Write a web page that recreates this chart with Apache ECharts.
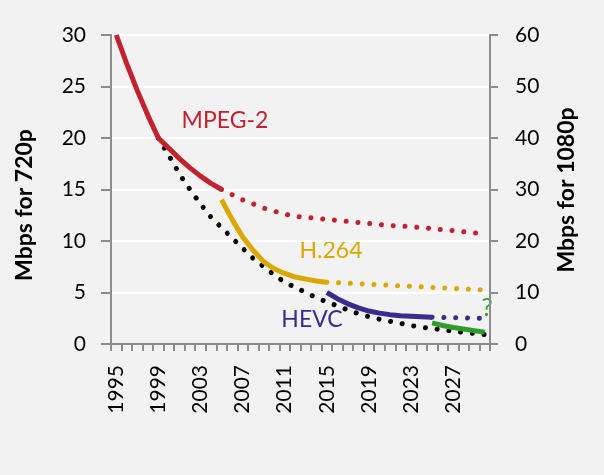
<!DOCTYPE html>
<html>
<head>
<meta charset="utf-8">
<script src="https://cdn.jsdelivr.net/npm/echarts@6/dist/echarts.min.js"></script>
<style>
  html, body { margin: 0; padding: 0; background: #f2f2f2; }
  #chart { width: 604px; height: 475px; }
</style>
</head>
<body>
<div id="chart"></div>
<script>
// years on the x axis, 1995..2030
var years = ['1995','1996','1997','1998','1999','2000','2001','2002','2003','2004',
  '2005','2006','2007','2008','2009','2010','2011','2012','2013','2014',
  '2015','2016','2017','2018','2019','2020','2021','2022','2023','2024',
  '2025','2026','2027','2028','2029','2030'];

var _ = null;
// Mbps for 720p
var mpeg2Actual = [30, 27.2, 24.6, 22.2, 20, 19, 18, 17.1, 16.3, 15.6, 15];
var mpeg2Projected = [_,_,_,_,_,_,_,_,_,_, 15, 14.5, 14.0, 13.6, 13.2, 12.9, 12.6, 12.4, 12.3, 12.2,
  12.1, 12.0, 11.9, 11.8, 11.7, 11.6, 11.5, 11.45, 11.4, 11.3, 11.2, 11.1, 11.0, 10.9, 10.8, 10.7];
var h264Actual = [_,_,_,_,_,_,_,_,_,_, 14.0, 12.1, 10.4, 9.1, 8.0, 7.3, 6.85, 6.5, 6.3, 6.12, 6.0];
var h264Projected = [_,_,_,_,_,_,_,_,_,_, _,_,_,_,_,_,_,_,_,_,
  6.0, 5.95, 5.9, 5.85, 5.8, 5.75, 5.7, 5.65, 5.6, 5.55, 5.5, 5.45, 5.4, 5.35, 5.3, 5.25];
var hevcActual = [_,_,_,_,_,_,_,_,_,_, _,_,_,_,_,_,_,_,_,_,
  5.0, 4.4, 3.9, 3.5, 3.2, 3.0, 2.85, 2.75, 2.7, 2.65, 2.6];
var hevcProjected = [_,_,_,_,_,_,_,_,_,_, _,_,_,_,_,_,_,_,_,_,
  _,_,_,_,_,_,_,_,_,_, 2.6, 2.58, 2.55, 2.53, 2.5, 2.48];
var nextCodec = [_,_,_,_,_,_,_,_,_,_, _,_,_,_,_,_,_,_,_,_,
  _,_,_,_,_,_,_,_,_,_, 2.05, 1.8, 1.6, 1.45, 1.3, 1.15];
var trend = [_,_,_,_, 20, 18.3, 16.5, 15.0, 13.6, 12.3, 11.3, 10.3, 9.3, 8.3, 7.5, 6.7,
  6.0, 5.5, 5.0, 4.5, 4.1, 3.7, 3.3, 2.95, 2.65, 2.4, 2.2, 2.0, 1.8, 1.63, 1.5,
  1.38, 1.25, 1.13, 1.02, 0.92];

var leftTicks = [0, 30, 5];
var rightTicks = [0, 60, 10];

var RED = '#c4212f', GOLD = '#dba800', PURPLE = '#3d2a8c', GREEN = '#2e9e28';
var FONT = 'Lato, "Open Sans", sans-serif';
var AXIS_GREY = '#8c8c8c';

function solid(name, data, color) {
  return {
    name: name, type: 'line', data: data, symbol: 'none', connectNulls: false,
    lineStyle: { color: color, width: 5, cap: 'butt', join: 'round' },
    z: 3
  };
}
function dotted(name, data, color) {
  return {
    name: name, type: 'line', data: data, symbol: 'none', connectNulls: false,
    lineStyle: { color: color, width: 5, type: [0.01, 11.8], cap: 'round' },
    z: 2
  };
}

var chart = echarts.init(document.getElementById('chart'));
var option = {
  backgroundColor: '#f2f2f2',
  animation: false,
  textStyle: { fontFamily: FONT },
  grid: { left: 111, right: 114, top: 35, bottom: 131, containLabel: false },
  xAxis: {
    type: 'category',
    data: years,
    boundaryGap: true,
    axisLine: { lineStyle: { color: AXIS_GREY, width: 2 } },
    axisTick: { show: true, interval: 0, length: 7, lineStyle: { color: AXIS_GREY, width: 2 } },
    axisLabel: { interval: 3, rotate: 90, margin: 21, fontSize: 21, color: '#000', fontFamily: FONT },
    splitLine: { show: false }
  },
  yAxis: [{
    type: 'value', min: leftTicks[0], max: leftTicks[1], interval: leftTicks[2],
    position: 'left',
    axisLine: { show: true, lineStyle: { color: AXIS_GREY, width: 2 } },
    axisTick: { show: true, length: 10, lineStyle: { color: AXIS_GREY, width: 2 } },
    axisLabel: { fontSize: 21, color: '#000', margin: 25, fontFamily: FONT },
    splitLine: { show: true, lineStyle: { color: '#ffffff', width: 2 } }
  }, {
    type: 'value', min: rightTicks[0], max: rightTicks[1], interval: rightTicks[2],
    position: 'right',
    axisLine: { show: true, lineStyle: { color: AXIS_GREY, width: 2 } },
    axisTick: { show: true, length: 8, lineStyle: { color: AXIS_GREY, width: 2 } },
    axisLabel: { fontSize: 21, color: '#000', margin: 25, fontFamily: FONT },
    splitLine: { show: false }
  }],
  series: [
    dotted('trend', trend, '#000000'),
    dotted('MPEG-2 projected', mpeg2Projected, RED),
    dotted('H.264 projected', h264Projected, GOLD),
    dotted('HEVC projected', hevcProjected, PURPLE),
    solid('MPEG-2', mpeg2Actual, RED),
    solid('H.264', h264Actual, GOLD),
    solid('HEVC', hevcActual, PURPLE),
    solid('next', nextCodec, GREEN)
  ],
  graphic: [
    { type: 'text', x: 25, y: 205, rotation: Math.PI / 2,
      style: { text: 'Mbps for 720p', fill: '#000', font: 'bold 23px ' + FONT, align: 'center', verticalAlign: 'middle' } },
    { type: 'text', x: 567, y: 190, rotation: Math.PI / 2,
      style: { text: 'Mbps for 1080p', fill: '#000', font: 'bold 23px ' + FONT, align: 'center', verticalAlign: 'middle' } },
    { type: 'text', x: 225, y: 121,
      style: { text: 'MPEG-2', fill: RED, font: '23px ' + FONT, align: 'center', verticalAlign: 'middle' } },
    { type: 'text', x: 331, y: 251,
      style: { text: 'H.264', fill: GOLD, font: '23px ' + FONT, align: 'center', verticalAlign: 'middle' } },
    { type: 'text', x: 312, y: 320,
      style: { text: 'HEVC', fill: PURPLE, font: '23px ' + FONT, align: 'center', verticalAlign: 'middle' } },
    { type: 'text', x: 487, y: 308,
      style: { text: '?', fill: GREEN, font: '25px ' + FONT, align: 'center', verticalAlign: 'middle' } }
  ]
};
chart.setOption(option);
</script>
</body>
</html>
